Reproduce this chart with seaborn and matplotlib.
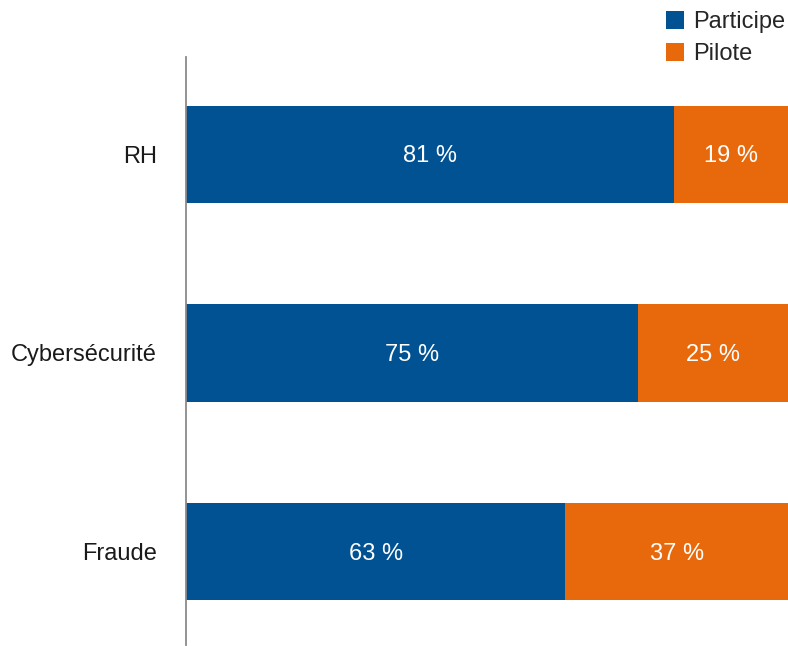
import matplotlib
matplotlib.use("Agg")
import matplotlib.pyplot as plt
from matplotlib.patches import Patch
import seaborn as sns
import pandas as pd

categories = ["RH", "Cybersécurité", "Fraude"]
participe = [81, 75, 63]
pilote = [19, 25, 37]
series_names = ["Participe", "Pilote"]

BLUE = "#005293"
ORANGE = "#E8690C"

sns.set_theme(style="white")
plt.rcParams["font.family"] = ["Liberation Sans", "DejaVu Sans"]

df = pd.DataFrame({"cat": categories, "participe": participe, "pilote": pilote})
df["total"] = df["participe"] + df["pilote"]

fig = plt.figure(figsize=(7.88, 6.46), dpi=100)
ax = fig.add_axes([186 / 788, 1 / 646, 1 - 186 / 788, 1 - 57 / 646 - 1 / 646])

# stacked horizontal bars: full total in orange, participation on top in blue
sns.barplot(data=df, y="cat", x="total", orient="h", color=ORANGE,
            width=0.49, saturation=1, linewidth=0, ax=ax)
sns.barplot(data=df, y="cat", x="participe", orient="h", color=BLUE,
            width=0.49, saturation=1, linewidth=0, ax=ax)

fs = 17
for i, (p, q) in enumerate(zip(participe, pilote)):
    ax.text(p / 2, i + 0.01, f"{p} %", ha="center", va="center", color="white", fontsize=fs)
    ax.text(p + q / 2, i + 0.01, f"{q} %", ha="center", va="center", color="white", fontsize=fs)

ax.set_xlim(0, 100)
ax.set_ylim(2.47, -0.49)
ax.set_xlabel("")
ax.set_ylabel("")
ax.set_xticks([])
for s in ["top", "right", "bottom"]:
    ax.spines[s].set_visible(False)
ax.spines["left"].set_color("#8a8a8a")
ax.spines["left"].set_linewidth(1.3)
ax.tick_params(axis="y", length=0, pad=21, labelsize=fs, labelcolor="#1a1a1a")

handles = [Patch(facecolor=BLUE, edgecolor="none"), Patch(facecolor=ORANGE, edgecolor="none")]
fig.legend(handles, series_names, loc="upper right", bbox_to_anchor=(1.003, 0.990),
           frameon=False, fontsize=fs, handlelength=0.76, handleheight=0.76,
           handletextpad=0.4, labelspacing=0.42, borderaxespad=0, borderpad=0.2)

fig.savefig("out.png", dpi=100)
